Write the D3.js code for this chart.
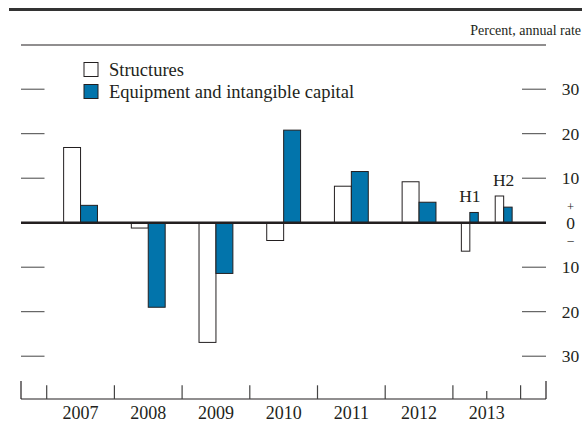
<!DOCTYPE html>
<html>
<head>
<meta charset="utf-8">
<script src="https://cdn.jsdelivr.net/npm/d3@7"></script>
<style>
  html, body { margin: 0; padding: 0; background: #fff; }
  svg { display: block; font-family: "Liberation Serif", "Times New Roman", serif; }
</style>
</head>
<body>
<svg id="chart" width="582" height="423"></svg>
<script>
// ---- data ----
const periods = ["2007", "2008", "2009", "2010", "2011", "2012", "H1", "H2"];
const periodStart = [2007, 2008, 2009, 2010, 2011, 2012, 2013, 2013.5];
const periodLength = [1, 1, 1, 1, 1, 1, 0.5, 0.5];
const structures = [16.9, -1.2, -26.9, -4.0, 8.2, 9.2, -6.4, 6.0];
const equipment = [3.9, -19.0, -11.4, 20.8, 11.5, 4.6, 2.3, 3.5];
const halfLabels = ["H1", "H2"];
const years = [2007, 2008, 2009, 2010, 2011, 2012, 2013];
const yTicks = [-30, -20, -10, 10, 20, 30];
const seriesNames = ["Structures", "Equipment and intangible capital"];
const unitsLabel = "Percent, annual rate";

// ---- layout ----
const svg = d3.select("#chart");
const ink = "#231f20";
const blue = "#0274ab";
const left = 21, right = 546;
const x = d3.scaleLinear().domain([2007, 2014]).range([46.7, 520.6]);
const y = d3.scaleLinear().domain([-30, 30]).range([356.2, 89.2]);

// top rules and units
svg.append("line").attr("x1", 9).attr("x2", 582).attr("y1", 9.5).attr("y2", 9.5)
  .attr("stroke", "#333").attr("stroke-width", 3);
svg.append("line").attr("x1", left).attr("x2", right).attr("y1", 45).attr("y2", 45)
  .attr("stroke", ink).attr("stroke-width", 1.2);
svg.append("text").attr("x", 581).attr("y", 35).attr("text-anchor", "end")
  .attr("font-size", 14).attr("fill", ink).text(unitsLabel);

// y ticks (both sides) and right labels
const tg = svg.append("g");
yTicks.forEach(t => {
  tg.append("line").attr("x1", left).attr("x2", 44.5).attr("y1", y(t)).attr("y2", y(t))
    .attr("stroke", "#444").attr("stroke-width", 1);
  tg.append("line").attr("x1", 522).attr("x2", right).attr("y1", y(t)).attr("y2", y(t))
    .attr("stroke", "#444").attr("stroke-width", 1);
  tg.append("text").attr("x", 570.5).attr("y", y(t) + 6).attr("text-anchor", "middle")
    .attr("font-size", 17.5).attr("fill", ink).text(Math.abs(t));
});
tg.append("text").attr("x", 570.5).attr("y", y(0) + 6).attr("text-anchor", "middle")
  .attr("font-size", 17.5).attr("fill", ink).text("0");
tg.append("text").attr("x", 570.5).attr("y", y(0) - 11.5).attr("text-anchor", "middle")
  .attr("font-size", 12.5).attr("fill", ink).text("+");
tg.append("text").attr("x", 570.5).attr("y", y(0) + 21.5).attr("text-anchor", "middle")
  .attr("font-size", 12.5).attr("fill", ink).text("\u2013");

// bars
const bw = i => (x(periodStart[i] + periodLength[i]) - x(periodStart[i])) * 0.25;
const cx = i => x(periodStart[i] + periodLength[i] / 2);
const bars = svg.append("g");
periods.forEach((p, i) => {
  const w = bw(i), c = cx(i);
  const s = structures[i], e = equipment[i];
  bars.append("rect").attr("x", c - w).attr("width", w)
    .attr("y", y(Math.max(0, s))).attr("height", Math.abs(y(s) - y(0)))
    .attr("fill", "#fff").attr("stroke", ink).attr("stroke-width", 1);
  bars.append("rect").attr("x", c).attr("width", w)
    .attr("y", y(Math.max(0, e))).attr("height", Math.abs(y(e) - y(0)))
    .attr("fill", blue).attr("stroke", ink).attr("stroke-width", 1);
  if (halfLabels.includes(p)) {
    svg.append("text").attr("x", c).attr("y", y(Math.max(0, s, e)) - 10)
      .attr("text-anchor", "middle").attr("font-size", 17.5).attr("fill", ink).text(p);
  }
});

// zero line
svg.append("line").attr("x1", left).attr("x2", right).attr("y1", y(0)).attr("y2", y(0))
  .attr("stroke", ink).attr("stroke-width", 2.5);

// x axis
const ax = svg.append("g");
const base = 399;
ax.append("line").attr("x1", left).attr("x2", right).attr("y1", base).attr("y2", base)
  .attr("stroke", ink).attr("stroke-width", 1.2);
[left, right].forEach(xx => ax.append("line").attr("x1", xx).attr("x2", xx)
  .attr("y1", 381).attr("y2", base).attr("stroke", ink).attr("stroke-width", 1.2));
years.concat([2014]).forEach(yr => ax.append("line").attr("x1", x(yr)).attr("x2", x(yr))
  .attr("y1", 385.3).attr("y2", base).attr("stroke", "#444").attr("stroke-width", 1.2));
ax.append("line").attr("x1", x(2013.5)).attr("x2", x(2013.5))
  .attr("y1", 391).attr("y2", base).attr("stroke", "#444").attr("stroke-width", 1.2);
years.forEach(yr => ax.append("text").attr("x", x(yr + 0.5)).attr("y", 419)
  .attr("text-anchor", "middle").attr("font-size", 18).attr("fill", ink).text(yr));

// legend
const lg = svg.append("g");
[["#fff", 62.5, 75.5], [blue, 84.5, 97.5]].forEach((d, i) => {
  lg.append("rect").attr("x", 84).attr("y", d[1]).attr("width", 14).attr("height", 14)
    .attr("fill", d[0]).attr("stroke", ink).attr("stroke-width", 1);
  lg.append("text").attr("x", 109).attr("y", d[2]).attr("font-size", 18.5)
    .attr("fill", ink).text(seriesNames[i]);
});
</script>
</body>
</html>
